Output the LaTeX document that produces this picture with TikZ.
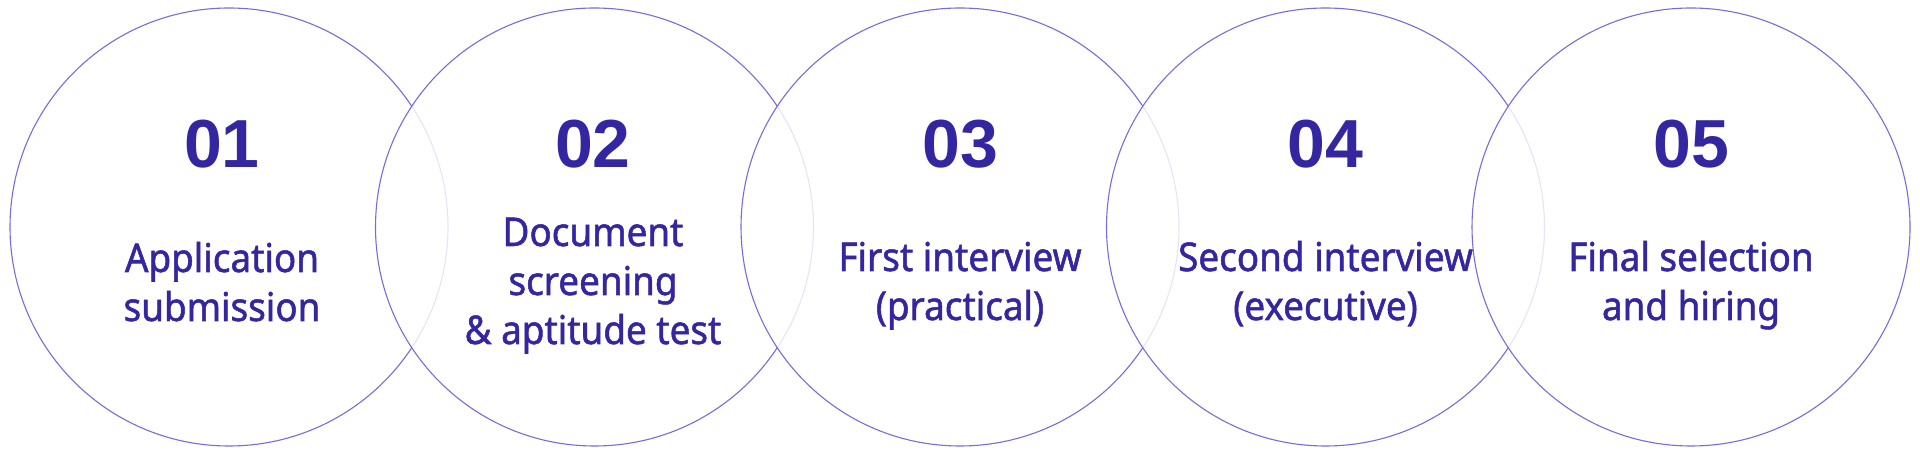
\documentclass[tikz,border=0pt]{standalone}
\usepackage{fontspec}
\setmainfont{Noto Sans}
\newfontfamily\numfont{Liberation Sans}
\newfontfamily\lblfont{Noto Sans}[FakeStretch=0.93,FakeBold=1.3]
\definecolor{ringcol}{RGB}{122,108,216}
\definecolor{txtcol}{RGB}{52,38,160}
\begin{document}
\begin{tikzpicture}[x=0.5pt,y=-0.5pt,
  ring/.style={circle,draw=ringcol,line width=0.55pt,fill=white,fill opacity=0.82,minimum size=219pt,inner sep=0pt},
  num/.style={text=txtcol,font=\numfont\bfseries\fontsize{34}{34}\selectfont,anchor=base,inner sep=0pt},
  lbl/.style={text=txtcol,font=\lblfont\fontsize{19.8}{24.5}\selectfont,anchor=base,align=center,inner sep=0pt}]
\useasboundingbox (0,0) rectangle (1920,453);
\node[ring] (c1) at (229,227) {};
\node[ring] (c2) at (594.5,227) {};
\node[ring] (c3) at (960,227) {};
\node[ring] (c4) at (1325.5,227) {};
\node[ring] (c5) at (1691,227) {};
% numbers
\node[num] (n1) at (222,168) {01};
\node[num] (n2) at (593,168) {02};
\node[num] (n3) at (960,168) {03};
\node[num] (n4) at (1325.5,168) {04};
\node[num] (n5) at (1691,168) {05};
% labels
\node[lbl] (l1a) at (222,272) {Application};
\node[lbl] (l1b) at (222,321) {submission};
\node[lbl] (l2a) at (593,246) {Document};
\node[lbl] (l2b) at (593,295) {screening};
\node[lbl] (l2c) at (593,344) {\& aptitude test};
\node[lbl] (l3a) at (960,271) {First interview};
\node[lbl] (l3b) at (960,320) {(practical)};
\node[lbl] (l4a) at (1325.5,271) {Second interview};
\node[lbl] (l4b) at (1325.5,320) {(executive)};
\node[lbl] (l5a) at (1691,271) {Final selection};
\node[lbl] (l5b) at (1691,320) {and hiring};
\end{tikzpicture}
\end{document}
